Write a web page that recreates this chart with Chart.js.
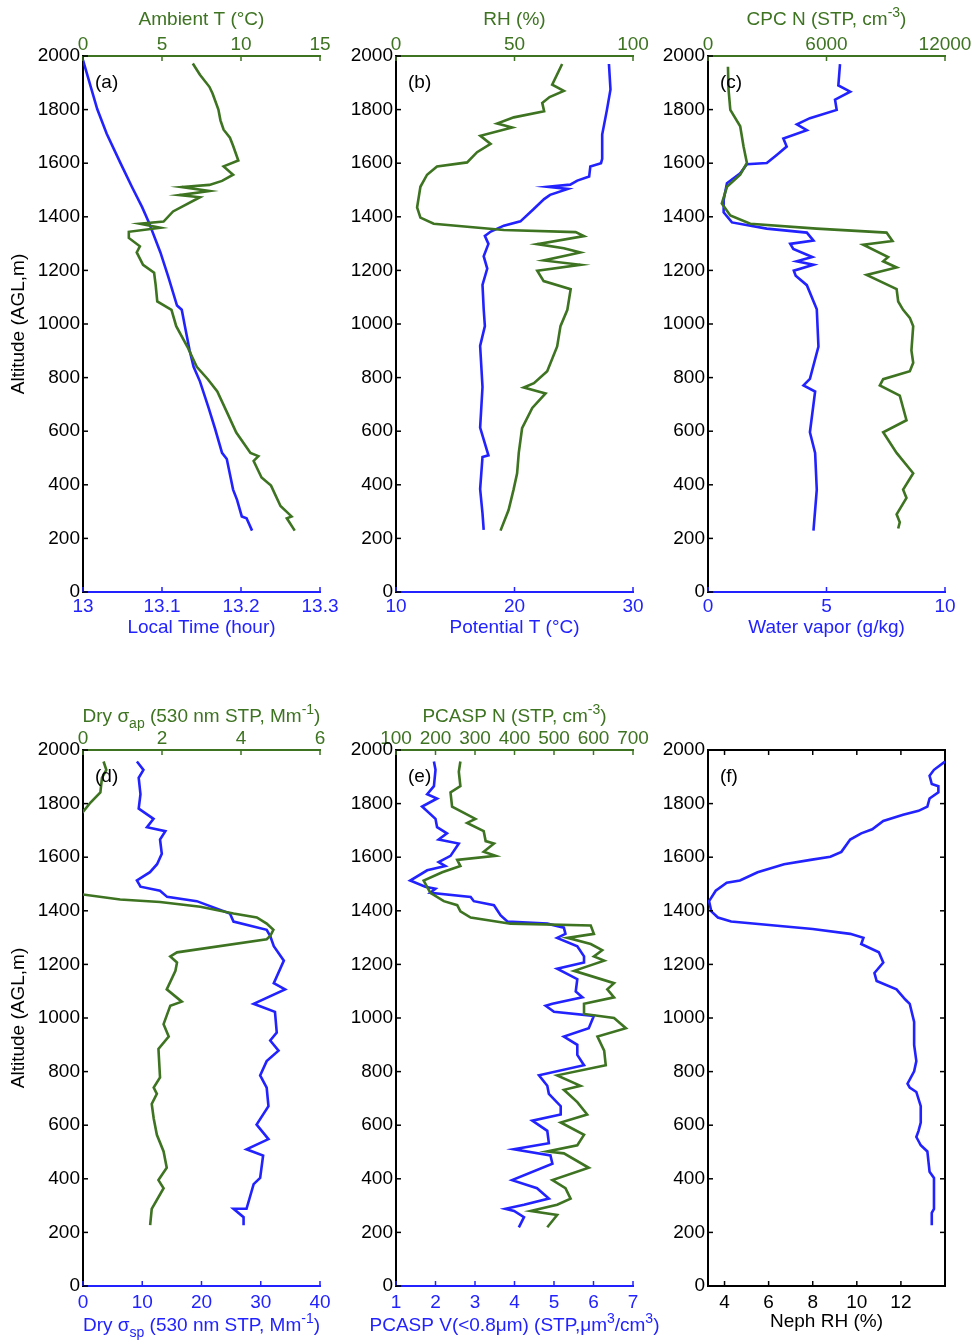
<!DOCTYPE html>
<html>
<head>
<meta charset="utf-8">
<script src="https://cdn.jsdelivr.net/npm/chart.js@4.4.1/dist/chart.umd.min.js"></script>
<style>
  html, body { margin: 0; padding: 0; background: #fff; width: 972px; height: 1344px; overflow: hidden; }
  .panel { position: absolute; }
</style>
</head>
<body>
<div class="panel" style="left:0px;top:0px"><canvas id="pa" width="347" height="652"></canvas></div>
<div class="panel" style="left:313px;top:0px"><canvas id="pb" width="347" height="652"></canvas></div>
<div class="panel" style="left:625px;top:0px"><canvas id="pc" width="347" height="652"></canvas></div>
<div class="panel" style="left:0px;top:694px"><canvas id="pd" width="347" height="652"></canvas></div>
<div class="panel" style="left:313px;top:694px"><canvas id="pe" width="347" height="652"></canvas></div>
<div class="panel" style="left:625px;top:694px"><canvas id="pf" width="347" height="652"></canvas></div>
<script>
// ---- altitude ticks (all panels)
const ticksAlt = [0, 200, 400, 600, 800, 1000, 1200, 1400, 1600, 1800, 2000];

// ---- (a) local time / ambient T
const ticksTime = [13, 13.1, 13.2, 13.3];
const ticksAmbT = [0, 5, 10, 15];
const altTime = [1985,1802,1710,1603,1511,1435,1382,1267,1176,1069,1053,992,901,840,786,687,611,519,496,382,344,282,275,229];
const localTime = [13.000,13.018,13.030,13.047,13.062,13.075,13.083,13.098,13.108,13.119,13.125,13.129,13.135,13.140,13.148,13.159,13.167,13.176,13.182,13.190,13.195,13.201,13.207,13.214];
const altTemp = [1972,1930,1885,1860,1800,1760,1725,1695,1665,1610,1588,1557,1534,1519,1511,1496,1481,1473,1420,1382,1374,1359,1344,1321,1290,1267,1221,1191,1145,1084,1053,992,916,840,794,748,672,595,519,507,489,427,397,321,282,275,229];
const ambientT = [6.95,7.4,8.0,8.2,8.57,8.7,8.9,9.3,9.5,9.83,8.9,9.5,8.8,8.0,6.25,8.0,6.1,7.4,5.7,5.1,3.6,4.9,2.9,2.9,3.6,3.4,3.8,4.5,4.6,4.7,5.6,5.9,6.6,7.2,7.9,8.5,9.1,9.7,10.6,11.1,10.8,11.3,11.9,12.5,13.2,12.9,13.4];

// ---- (b) potential T / RH
const ticksPotT = [10, 20, 30];
const ticksRH = [0, 50, 100];
const altPotT = [1970,1875,1799,1707,1616,1600,1588,1550,1535,1520,1512,1504,1482,1466,1428,1383,1367,1345,1329,1299,1253,1207,1146,1055,992,918,765,613,510,504,384,293,232];
const potT = [27.97,28.1,27.8,27.4,27.4,27.3,26.4,26.3,25.3,24.7,22.8,24.5,23.0,22.5,21.6,20.5,19.1,18.0,17.5,17.8,17.4,17.7,17.3,17.4,17.5,17.1,17.3,17.1,17.8,17.3,17.1,17.3,17.4];
const altRH = [1970,1893,1870,1847,1825,1794,1771,1748,1733,1702,1672,1641,1603,1588,1557,1512,1435,1397,1374,1351,1343,1328,1298,1283,1267,1237,1221,1199,1160,1130,1053,992,916,824,779,763,741,687,611,519,443,382,306,229];
const rh = [70.1,65.9,70.8,64.8,61.7,62.5,49.7,42.7,49.0,35.6,39.9,34.2,30.0,17.3,13.1,10.3,8.9,10.3,15.9,45.5,75.8,79.3,59.6,70.8,77.8,62.3,77.8,59.6,62.3,73.7,72.3,69.4,68.0,63.8,58.2,53.9,63.1,57.5,53.2,51.8,51.1,49.6,47.5,44.1];

// ---- (c) water vapor / CPC N
const ticksVap = [0, 5, 10];
const ticksCPC = [0, 6000, 12000];
const altVap = [1970,1890,1867,1837,1799,1768,1745,1723,1692,1662,1631,1601,1596,1562,1525,1463,1417,1379,1356,1341,1311,1299,1280,1250,1234,1221,1199,1180,1145,1055,916,795,771,748,596,519,382,229];
const vapor = [5.57,5.5,6.0,5.36,5.43,4.3,3.75,4.17,3.18,3.32,2.9,2.48,1.64,1.36,0.8,0.66,0.66,1.01,2.48,4.17,4.45,3.47,3.6,4.4,3.74,4.45,3.62,3.7,4.17,4.59,4.66,4.3,4.03,4.52,4.3,4.52,4.59,4.45];
const altCPC = [1960,1875,1799,1738,1662,1601,1557,1512,1450,1405,1374,1356,1341,1310,1296,1250,1234,1211,1183,1130,1084,1053,1023,992,901,855,824,794,771,733,641,596,519,443,382,351,290,260,237];
const cpcN = [1010,1040,1130,1630,1800,1970,1630,960,700,1130,2140,5500,9040,9340,7860,9120,8870,9550,8030,9550,9630,9880,10220,10390,10300,10390,10220,8870,8700,9710,10050,8870,9550,10390,9880,10050,9550,9710,9630];

// ---- (d) dry scattering / absorption
const ticksSsp = [0, 10, 20, 30, 40];
const ticksSap = [0, 2, 4, 6];
const altSsp = [1957,1926,1896,1835,1781,1743,1712,1697,1666,1613,1574,1544,1513,1490,1475,1452,1436,1390,1360,1329,1306,1268,1214,1130,1107,1053,1023,946,916,878,839,786,740,671,602,548,510,487,403,380,288,288,257,227];
const sigmaSp = [9.1,10.2,9.4,9.7,9.4,11.9,10.8,13.9,13.0,13.3,12.5,11.3,9.1,9.7,13.0,14.2,19.2,24.8,25.4,31.0,31.6,32.2,33.9,32.2,34.1,28.8,32.4,32.7,31.6,33.0,31.0,29.9,31.0,31.3,29.3,31.3,27.6,30.4,29.9,28.8,27.6,25.4,27.1,27.1];
const altSap = [1957,1926,1896,1842,1804,1773,1700,1550,1462,1442,1433,1415,1390,1375,1352,1329,1306,1294,1245,1230,1207,1176,1107,1061,1046,977,931,885,778,740,717,679,625,564,502,441,395,365,288,227];
const sigmaAp = [0.52,0.59,0.48,0.44,0.19,0.02,-0.4,-0.5,-0.05,0.94,1.95,2.97,3.81,4.4,4.65,4.82,4.74,4.65,2.38,2.21,2.38,2.34,2.12,2.5,2.21,2.04,2.17,1.91,1.95,1.79,1.87,1.74,1.79,1.87,2.04,2.12,1.91,2.04,1.74,1.7];

// ---- (e) PCASP volume / number
const ticksPV = [1, 2, 3, 4, 5, 6, 7];
const ticksPN = [100, 200, 300, 400, 500, 600, 700];
const altV = [1957,1926,1865,1835,1819,1789,1743,1712,1689,1666,1651,1605,1582,1567,1551,1513,1490,1482,1467,1452,1436,1421,1383,1360,1352,1337,1314,1299,1268,1230,1207,1184,1145,1099,1077,1053,1046,1023,1008,962,931,900,862,824,786,747,717,671,640,617,579,533,510,487,456,395,365,326,303,288,280,257,219];
const pcaspV = [1.96,2.0,1.96,1.79,2.04,1.66,2.0,2.04,2.29,2.08,2.59,2.38,2.08,2.25,1.79,1.36,1.74,2.0,1.87,2.89,2.97,3.48,3.65,3.82,4.83,5.25,5.29,5.08,5.59,5.76,5.76,5.08,5.59,5.55,5.72,4.96,4.79,5.0,6.01,5.88,5.25,5.59,5.59,5.76,4.62,4.83,4.87,5.17,5.17,4.45,4.83,4.87,3.98,4.91,4.96,3.94,4.57,4.87,4.24,3.77,3.99,4.24,4.11];
const altN = [1957,1919,1865,1842,1789,1743,1728,1697,1660,1651,1620,1605,1590,1567,1544,1513,1467,1436,1421,1398,1375,1352,1345,1314,1299,1276,1253,1230,1214,1176,1130,1107,1077,1053,1015,1000,962,931,878,824,786,747,732,686,640,610,564,525,502,495,441,395,365,326,303,280,265,219];
const pcaspN = [263,259,263,238,242,301,280,322,327,348,322,352,255,263,217,170,187,221,255,263,289,390,593,601,534,593,622,601,627,551,652,635,652,576,576,652,682,610,627,631,508,567,525,559,584,517,576,559,483,525,588,496,529,542,508,441,508,483];

// ---- (f) neph RH
const ticksNeph = [4, 6, 8, 10, 12];
const altNeph = [1957,1926,1904,1873,1865,1842,1819,1789,1773,1758,1735,1704,1689,1666,1620,1602,1590,1574,1544,1513,1505,1475,1436,1398,1375,1360,1332,1314,1299,1276,1245,1207,1168,1138,1107,1069,1053,985,916,900,839,801,755,740,724,671,610,579,556,525,502,426,403,372,349,288,273,227];
const nephRH = [14.0,13.5,13.3,13.4,13.7,13.7,13.3,13.2,12.8,12.1,11.2,10.7,10.2,9.7,9.3,8.8,7.9,6.7,5.5,4.7,4.1,3.6,3.3,3.4,3.7,4.3,8.0,9.7,10.3,10.2,11.0,11.2,10.8,10.9,11.8,12.2,12.4,12.6,12.6,12.6,12.7,12.6,12.3,12.4,12.7,12.9,12.9,12.8,12.7,12.9,13.2,13.3,13.5,13.5,13.5,13.5,13.4,13.4];

const BLUE = '#2222ff';
const GREEN = '#3d7321';
const BLACK = '#000000';
const FAMILY = "'Liberation Sans', Arial, Helvetica, sans-serif";
const FS = 19;
Chart.defaults.font.family = FAMILY;
Chart.defaults.font.size = FS;

// titles with sub / superscripts
function drawRich(ctx, segs, cx, cy, color) {
    if (!segs) return;
    const big = FS + 'px ' + FAMILY, small = '14px ' + FAMILY;
    let w = 0;
    segs.forEach(([t, k]) => { ctx.font = k ? small : big; w += ctx.measureText(t).width; });
    let x = cx - w / 2;
    ctx.fillStyle = color;
    ctx.textAlign = 'left';
    ctx.textBaseline = 'middle';
    segs.forEach(([t, k]) => {
        ctx.font = k ? small : big;
        const dy = k === 'sup' ? -7 : (k === 'sub' ? 7 : 0);
        ctx.fillText(t, x, cy + dy);
        x += ctx.measureText(t).width;
    });
}

// inward tick marks, panel letter, axis titles
const decor = {
    id: 'decor',
    afterDraw(chart, args, o) {
        const ctx = chart.ctx, a = chart.chartArea;
        ctx.save();
        Object.values(chart.scales).forEach(s => {
            ctx.strokeStyle = s.options.border.color;
            ctx.lineWidth = 1.5;
            s.ticks.forEach(t => {
                const p = s.getPixelForValue(t.value);
                ctx.beginPath();
                if (s.position === 'bottom') { ctx.moveTo(p, a.bottom); ctx.lineTo(p, a.bottom - 5); }
                else if (s.position === 'top') { ctx.moveTo(p, a.top); ctx.lineTo(p, a.top + 5); }
                else if (s.position === 'left') { ctx.moveTo(a.left, p); ctx.lineTo(a.left + 5, p); }
                else { ctx.moveTo(a.right, p); ctx.lineTo(a.right - 5, p); }
                ctx.stroke();
            });
        });
        ctx.fillStyle = BLACK;
        ctx.font = FS + 'px ' + FAMILY;
        ctx.textAlign = 'left';
        ctx.textBaseline = 'middle';
        ctx.fillText(o.letter, a.left + 12, a.top + 27);
        const cx = (a.left + a.right) / 2;
        drawRich(ctx, o.topTitle, cx, a.top - o.topGap, o.topColor);
        drawRich(ctx, o.bottomTitle, cx, a.bottom + o.bottomGap, o.bottomColor);
        ctx.restore();
    }
};

function xAxis(pos, min, max, tickList, color, pad, showLabels) {
    return {
        type: 'linear', position: pos, min: min, max: max,
        afterBuildTicks: s => { s.ticks = tickList.map(v => ({ value: v })); },
        afterFit: s => { s.height = pos === 'top' ? 56 : 60; },
        ticks: { display: showLabels, color: color, padding: pad, autoSkip: false, maxRotation: 0, minRotation: 0,
                 callback: v => String(v) },
        grid: { display: false, drawTicks: false },
        border: { color: color, width: 2 }
    };
}

function yAxis(pos, showLabels, title) {
    return {
        type: 'linear', position: pos, min: 0, max: 2000,
        afterBuildTicks: s => { s.ticks = ticksAlt.map(v => ({ value: v })); },
        afterFit: s => { s.width = pos === 'left' ? 83 : 0; },
        ticks: { display: showLabels, color: BLACK, padding: 3, autoSkip: false, callback: v => String(v) },
        grid: { display: false, drawTicks: false },
        border: { color: BLACK, width: 2 },
        title: { display: !!title, text: title || '', color: BLACK, font: { size: FS }, padding: { top: 7 } }
    };
}

function line(alt, vals, axis, color) {
    return {
        data: alt.map((h, i) => ({ x: vals[i], y: h })),
        xAxisID: axis, yAxisID: 'y',
        borderColor: color, borderWidth: 2.6,
        showLine: true, pointRadius: 0, tension: 0, fill: false
    };
}

function panel(id, cfg) {
    const scales = {
        x: xAxis('bottom', cfg.bottom.min, cfg.bottom.max, cfg.bottom.ticks, cfg.bottom.color, cfg.bottomPad, true),
        x2: xAxis('top', cfg.top.min, cfg.top.max, cfg.top.ticks, cfg.top.color, 0, cfg.top.labels !== false),
        y: yAxis('left', true, cfg.yTitle)
    };
    if (cfg.box) scales.y2 = yAxis('right', false, null);
    return new Chart(document.getElementById(id), {
        type: 'scatter',
        data: { datasets: cfg.series },
        options: {
            responsive: false, animation: false,
            layout: { padding: { right: 27, left: 0, top: 0, bottom: 0 } },
            plugins: {
                legend: { display: false }, tooltip: { enabled: false },
                decor: {
                    letter: cfg.letter,
                    topTitle: cfg.topTitle, topColor: cfg.top.color, topGap: cfg.topGap,
                    bottomTitle: cfg.bottomTitle, bottomColor: cfg.bottom.color, bottomGap: cfg.bottomGap
                }
            },
            scales: scales
        },
        plugins: [decor]
    });
}

panel('pa', {
    letter: '(a)', yTitle: 'Altitude (AGL,m)',
    bottom: { min: 13, max: 13.3, ticks: ticksTime, color: BLUE },
    top: { min: 0, max: 15, ticks: ticksAmbT, color: GREEN },
    topTitle: [['Ambient T (\u00B0C)', '']], bottomTitle: [['Local Time (hour)', '']],
    topGap: 36, bottomGap: 36, bottomPad: 3,
    series: [line(altTemp, ambientT, 'x2', GREEN), line(altTime, localTime, 'x', BLUE)]
});

panel('pb', {
    letter: '(b)',
    bottom: { min: 10, max: 30, ticks: ticksPotT, color: BLUE },
    top: { min: 0, max: 100, ticks: ticksRH, color: GREEN },
    topTitle: [['RH (%)', '']], bottomTitle: [['Potential T (\u00B0C)', '']],
    topGap: 36, bottomGap: 36, bottomPad: 3,
    series: [line(altRH, rh, 'x2', GREEN), line(altPotT, potT, 'x', BLUE)]
});

panel('pc', {
    letter: '(c)',
    bottom: { min: 0, max: 10, ticks: ticksVap, color: BLUE },
    top: { min: 0, max: 12000, ticks: ticksCPC, color: GREEN },
    topTitle: [['CPC N (STP, cm', ''], ['-3', 'sup'], [')', '']], bottomTitle: [['Water vapor (g/kg)', '']],
    topGap: 36, bottomGap: 36, bottomPad: 3,
    series: [line(altCPC, cpcN, 'x2', GREEN), line(altVap, vapor, 'x', BLUE)]
});

panel('pd', {
    letter: '(d)', yTitle: 'Altitude (AGL,m)',
    bottom: { min: 0, max: 40, ticks: ticksSsp, color: BLUE },
    top: { min: 0, max: 6, ticks: ticksSap, color: GREEN },
    topTitle: [['Dry \u03C3', ''], ['ap', 'sub'], [' (530 nm STP, Mm', ''], ['-1', 'sup'], [')', '']],
    bottomTitle: [['Dry \u03C3', ''], ['sp', 'sub'], [' (530 nm STP, Mm', ''], ['-1', 'sup'], [')', '']],
    topGap: 33, bottomGap: 40, bottomPad: 5,
    series: [line(altSap, sigmaAp, 'x2', GREEN), line(altSsp, sigmaSp, 'x', BLUE)]
});

panel('pe', {
    letter: '(e)',
    bottom: { min: 1, max: 7, ticks: ticksPV, color: BLUE },
    top: { min: 100, max: 700, ticks: ticksPN, color: GREEN },
    topTitle: [['PCASP N (STP, cm', ''], ['-3', 'sup'], [')', '']],
    bottomTitle: [['PCASP V(<0.8\u03BCm) (STP,\u03BCm', ''], ['3', 'sup'], ['/cm', ''], ['3', 'sup'], [')', '']],
    topGap: 33, bottomGap: 40, bottomPad: 5,
    series: [line(altN, pcaspN, 'x2', GREEN), line(altV, pcaspV, 'x', BLUE)]
});

panel('pf', {
    letter: '(f)', box: true,
    bottom: { min: 3.25, max: 14, ticks: ticksNeph, color: BLACK },
    top: { min: 3.25, max: 14, ticks: ticksNeph, color: BLACK, labels: false },
    bottomTitle: [['Neph RH (%)', '']],
    topGap: 33, bottomGap: 36, bottomPad: 5,
    series: [line(altNeph, nephRH, 'x', BLUE)]
});
</script>
</body>
</html>
